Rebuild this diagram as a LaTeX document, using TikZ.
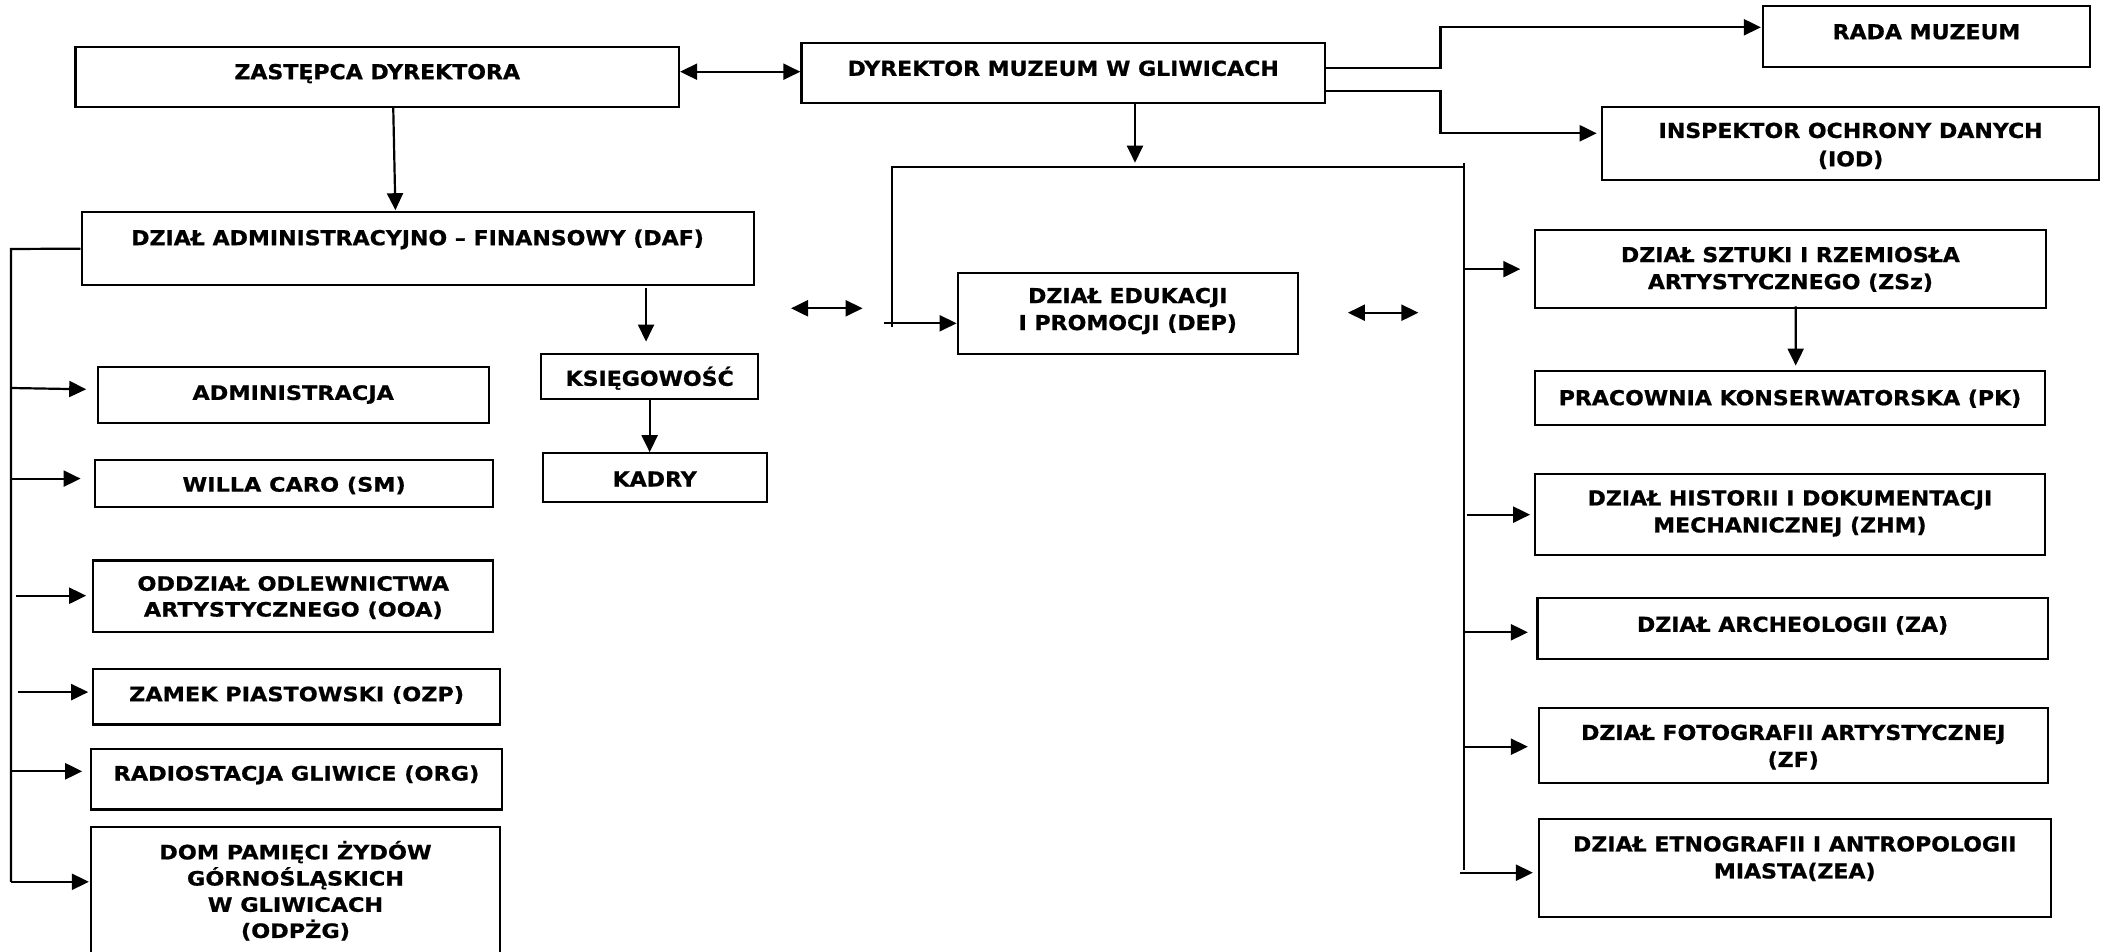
\documentclass[tikz,border=0pt]{standalone}
\usepackage{fontspec}
\newfontfamily\mf[FakeStretch=1.07,FakeBold=0.8]{DejaVu Sans}
\newfontfamily\lf[FakeStretch=1.13,FakeBold=0.8]{DejaVu Sans}
\usetikzlibrary{arrows.meta,calc,fit}
\begin{document}
\begin{tikzpicture}[x=0.5pt,y=-0.5pt,
  box/.style={draw, line width=1.1pt, inner sep=0pt, rectangle},
  t/.style={inner sep=0pt, align=center, font={\mf\bfseries\fontsize{10.3pt}{13.5pt}\selectfont}},
  lt/.style={inner sep=0pt, align=center, font={\lf\bfseries\fontsize{9.9pt}{12.9pt}\selectfont}},
  one/.style={text height=7.5pt, text depth=0pt},
  lone/.style={text height=7.2pt, text depth=0pt},
  ln/.style={line width=1.1pt},
  arr/.style={line width=1.1pt, -{Triangle[length=8.5pt,width=8pt]}},
  dbl/.style={line width=1.1pt, {Triangle[length=8.5pt,width=8pt]}-{Triangle[length=8.5pt,width=8pt]}}]
\fill[white] (0,0) rectangle (2105,952);
\useasboundingbox (0,0) rectangle (2105,952);

% boxes
\node[box, fit={(75.5,46.7) (679,107)}] (zast) {};
\node[box, fit={(801.4,42.7) (1325,103.3)}] (dyr) {};
\node[box, fit={(1763,6) (2090,66.7)}] (rada) {};
\node[box, fit={(1602.3,106.7) (2099,180)}] (iod) {};
\node[box, fit={(81.6,212.3) (753.6,285)}] (daf) {};
\node[box, fit={(541,354) (758.3,399)}] (ksieg) {};
\node[box, fit={(542.7,453.3) (766.7,502.3)}] (kadry) {};
\node[box, fit={(957.7,272.7) (1297.9,354)}] (dep) {};
\node[box, fit={(1534.9,230) (2046,308.3)}] (zsz) {};
\node[box, fit={(1535,370.7) (2045,425)}] (pk) {};
\node[box, fit={(1534.6,474.3) (2045.2,555)}] (zhm) {};
\node[box, fit={(1537.5,598.3) (2047.7,658.7)}] (za) {};
\node[box, fit={(1538.8,708.3) (2047.7,783.3)}] (zf) {};
\node[box, fit={(1538.8,819.3) (2050.7,916.7)}] (zea) {};
\node[box, fit={(97.7,367.3) (488.7,422.7)}] (admin) {};
\node[box, fit={(95,459.8) (493.3,507)}] (willa) {};
\node[box, fit={(93.3,560.5) (493.3,632)}] (ooa) {};
\node[box, fit={(93.3,668.6) (500,724.5)}] (ozp) {};
\node[box, fit={(91,749) (502,809.5)}] (org) {};
\node[box, fit={(91,827.1) (500,975)}] (odpzg) {};

% texts
\node[t, one] (zastT) at (zast.center |- 0,71.7) {ZASTĘPCA DYREKTORA};
\node[t, one] (dyrT) at (dyr.center |- 0,68.3) {DYREKTOR MUZEUM W GLIWICACH};
\node[t, one] (radaT) at (rada.center |- 0,31.7) {RADA MUZEUM};
\node[t, font={\mf\bfseries\fontsize{10.3pt}{14.2pt}\selectfont}] (iodT) at (iod.center |- 0,145.85) {INSPEKTOR OCHRONY DANYCH\\(IOD)};
\node[t, one] (dafT) at (daf.center |- 0,237.7) {DZIAŁ ADMINISTRACYJNO – FINANSOWY (DAF)};
\node[t, one] (ksiegT) at (ksieg.center |- 0,378.3) {KSIĘGOWOŚĆ};
\node[t, one] (kadryT) at (kadry.center |- 0,479) {KADRY};
\node[t] (depT) at (dep.center |- 0,311) {DZIAŁ EDUKACJI\\I PROMOCJI (DEP)};
\node[t] (zszT) at (zsz.center |- 0,269.35) {DZIAŁ SZTUKI I RZEMIOSŁA\\ARTYSTYCZNEGO (ZSz)};
\node[t, one] (pkT) at (pk.center |- 0,397.7) {PRACOWNIA KONSERWATORSKA (PK)};
\node[t] (zhmT) at (zhm.center |- 0,513.35) {DZIAŁ HISTORII I DOKUMENTACJI\\MECHANICZNEJ (ZHM)};
\node[t, one] (zaT) at (za.center |- 0,624.3) {DZIAŁ ARCHEOLOGII (ZA)};
\node[t] (zfT) at (zf.center |- 0,747.15) {DZIAŁ FOTOGRAFII ARTYSTYCZNEJ\\(ZF)};
\node[t] (zeaT) at (zea.center |- 0,858.65) {DZIAŁ ETNOGRAFII I ANTROPOLOGII\\MIASTA(ZEA)};
\node[lt, lone] (adminT) at (admin.center |- 0,392.7) {ADMINISTRACJA};
\node[lt, lone] (willaT) at (willa.center |- 0,484.4) {WILLA CARO (SM)};
\node[lt] (ooaT) at (ooa.center |- 0,597.6) {ODDZIAŁ ODLEWNICTWA\\ARTYSTYCZNEGO (OOA)};
\node[lt, lone] (ozpT) at (ozp.center |- 0,694) {ZAMEK PIASTOWSKI (OZP)};
\node[lt, lone] (orgT) at (org.center |- 0,773.3) {RADIOSTACJA GLIWICE (ORG)};
\node[lt, font={\lf\bfseries\fontsize{9.9pt}{13.1pt}\selectfont}] (odpzgT) at (odpzg.center |- 0,890.75) {DOM PAMIĘCI ŻYDÓW\\GÓRNOŚLĄSKICH\\W GLIWICACH\\(ODPŻG)};

% free coordinates
\coordinate (jl) at (891.6,166.7);
\coordinate (jr) at (1464.3,166.7);
\coordinate (jrt) at (1464.3,163);
\coordinate (jrb) at (1464.3,870);
\coordinate (jlb) at (891.6,326.7);
\coordinate (depin) at (884,323.3);
\coordinate (jtop) at (1135,166.7);
\coordinate (ra) at (1440.5,27.3);
\coordinate (ib) at (1440.5,133.3);
\coordinate (ltop) at (11,249);
\coordinate (lbot) at (11,881.8);
\coordinate (dl1) at (791,308.3);
\coordinate (dl2) at (862.6,308.3);
\coordinate (dr1) at (1347.9,312.7);
\coordinate (dr2) at (1418.4,312.7);

% connectors
\draw[dbl] (zast.east |- zastT) -- (dyr.west |- zastT);
\draw[arr] ($(zast.south)+(16,0)$) -- ($(daf.north)+(-22.2,-1)$);
\draw[arr] (dyr.south -| jtop) -- ($(jtop)+(0,-4)$);
\draw[ln] (jlb) -- (jl) -- (jr);
\draw[ln] (jrt) -- (jrb);
\draw[arr] (depin) -- (dep.west |- depin);
\draw[dbl] (dl1) -- (dl2);
\draw[dbl] (dr1) -- (dr2);

\draw[arr] ($(dyr.east)+(0,-4.7)$) -| (ra) -- ($(rada.west |- ra)+(-1,0)$);
\draw[arr] ($(dyr.east)+(0,17.7)$) -| (ib) -- ($(iod.west |- ib)+(-4.5,0)$);

\draw[arr] (jr |- zsz.west) -- ($(zsz.west)+(-13.5,0)$);
\draw[arr] ($(zsz.south)+(5.3,-3)$) -- ($(pk.north)+(5.7,-4)$);
\draw[arr] ($(jr |- zhm.west)+(2.4,0)$) -- ($(zhm.west)+(-3.4,0)$);
\draw[arr] ($(jr |- za.west)+(0,3.8)$) -- ($(za.west)+(-8.5,3.8)$);
\draw[arr] ($(jr |- zf.west)+(0,0.9)$) -- ($(zf.west)+(-9.8,0.9)$);
\draw[arr] ($(jr |- zea.west)+(-3.9,4.7)$) -- ($(zea.west)+(-4.8,4.7)$);

\draw[ln] (daf.west) -- (ltop) -- (lbot);
\draw[arr] ($(ltop |- admin.west)+(0,-7)$) -- ($(admin.west)+(-10.4,-5.7)$);
\draw[arr] ($(ltop |- willa.west)+(0,-4.8)$) -- ($(willa.west)+(-13.3,-4.8)$);
\draw[arr] ($(ltop |- ooa.west)+(5,-0.55)$) -- ($(ooa.west)+(-6,-0.55)$);
\draw[arr] ($(ltop |- ozp.west)+(7.3,-4.45)$) -- ($(ozp.west)+(-4,-4.45)$);
\draw[arr] ($(ltop |- org.west)+(0,-7.95)$) -- ($(org.west)+(-7.7,-7.95)$);
\draw[arr] (lbot) -- ($(odpzg.west |- lbot)+(-1,0)$);

\draw[arr] ($(daf.south -| ksieg.north)+(-3.6,2)$) -- ($(ksieg.north)+(-3.6,-11.3)$);
\draw[arr] (ksieg.south) -- (kadry.north -| ksieg.south);
\end{tikzpicture}
\end{document}
